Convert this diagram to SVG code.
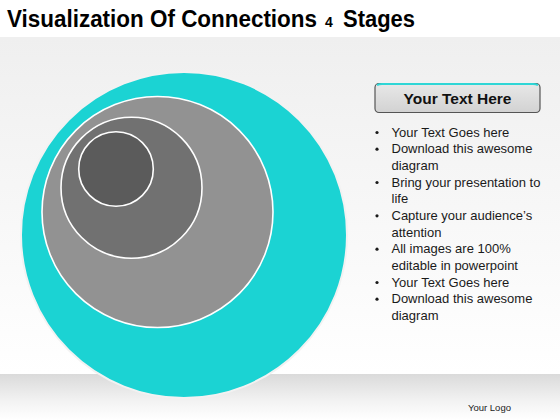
<svg xmlns="http://www.w3.org/2000/svg" width="560" height="420" viewBox="0 0 560 420">
<defs>
<linearGradient id="bg" x1="0" y1="0" x2="0" y2="1">
<stop offset="0" stop-color="#efefef"/>
<stop offset="0.5" stop-color="#f7f7f7"/>
<stop offset="1" stop-color="#ffffff"/>
</linearGradient>
<linearGradient id="foot" x1="0" y1="0" x2="0" y2="1">
<stop offset="0" stop-color="#dadada"/>
<stop offset="0.6" stop-color="#f3f3f3"/>
<stop offset="1" stop-color="#ffffff"/>
</linearGradient>
<linearGradient id="btn" x1="0" y1="0" x2="0" y2="1">
<stop offset="0" stop-color="#e8e8e8"/>
<stop offset="1" stop-color="#d2d2d2"/>
</linearGradient>
<style>
.ring{stroke:#ffffff;stroke-width:1.6}
.item{font-family:"Liberation Sans",Arial,sans-serif;font-size:13px;fill:#1a1a1a}
.dot{fill:#1a1a1a}
</style>
</defs>
<rect x="0" y="0" width="560" height="420" fill="#ffffff"/>
<rect x="0" y="37" width="560" height="337" fill="url(#bg)"/>
<rect x="0" y="374" width="560" height="46" fill="url(#foot)"/>
<text x="7" y="27" font-family="Liberation Sans,Arial,sans-serif" font-weight="bold" font-size="23" fill="#000" textLength="310" lengthAdjust="spacingAndGlyphs">Visualization Of Connections</text>
<text x="325" y="27" font-family="Liberation Sans,Arial,sans-serif" font-weight="bold" font-size="14" fill="#000">4</text>
<text x="343" y="27" font-family="Liberation Sans,Arial,sans-serif" font-weight="bold" font-size="23" fill="#000" textLength="72" lengthAdjust="spacingAndGlyphs">Stages</text>
<g id="stage1"><circle cx="184" cy="235" r="163" fill="#1bd3d3" stroke="#f2f2f2" stroke-width="2"/></g>
<g id="stage2"><circle cx="157.5" cy="212" r="115.5" fill="#929292" class="ring"/></g>
<g id="stage3"><circle cx="131.5" cy="187.7" r="70.5" fill="#717171" class="ring"/></g>
<g id="stage4"><circle cx="116" cy="169" r="37.3" fill="#5b5b5b" class="ring"/></g>
<g id="header">
<rect x="375" y="83.5" width="165" height="29" rx="4" fill="url(#btn)" stroke="#555" stroke-width="1.2"/>
<path d="M377 85.2 Q379 84 382 84 L533 84 Q536 84 538 85.2" fill="none" stroke="#2fd6d6" stroke-width="2"/>
<text x="457.5" y="104" text-anchor="middle" font-family="Liberation Sans,Arial,sans-serif" font-weight="bold" font-size="15.5" fill="#111" textLength="108" lengthAdjust="spacingAndGlyphs">Your Text Here</text>
</g>
<g id="bullets">
<circle class="dot" cx="377" cy="132.5" r="1.6"/>
<text class="item" x="391.5" y="136.7">Your Text Goes here</text>
<circle class="dot" cx="377" cy="149.2" r="1.6"/>
<text class="item" x="391.5" y="153.3">Download this awesome</text>
<text class="item" x="391.5" y="170">diagram</text>
<circle class="dot" cx="377" cy="182.5" r="1.6"/>
<text class="item" x="391.5" y="186.7">Bring your presentation to</text>
<text class="item" x="391.5" y="203.3">life</text>
<circle class="dot" cx="377" cy="215.8" r="1.6"/>
<text class="item" x="391.5" y="220">Capture your audience’s</text>
<text class="item" x="391.5" y="236.7">attention</text>
<circle class="dot" cx="377" cy="249.2" r="1.6"/>
<text class="item" x="391.5" y="253.3">All images are 100%</text>
<text class="item" x="391.5" y="270">editable in powerpoint</text>
<circle class="dot" cx="377" cy="282.5" r="1.6"/>
<text class="item" x="391.5" y="286.7">Your Text Goes here</text>
<circle class="dot" cx="377" cy="299.2" r="1.6"/>
<text class="item" x="391.5" y="303.3">Download this awesome</text>
<text class="item" x="391.5" y="320">diagram</text>
</g>
<text x="468" y="410.5" font-family="Liberation Sans,Arial,sans-serif" font-size="9.5" fill="#222">Your Logo</text>
</svg>
